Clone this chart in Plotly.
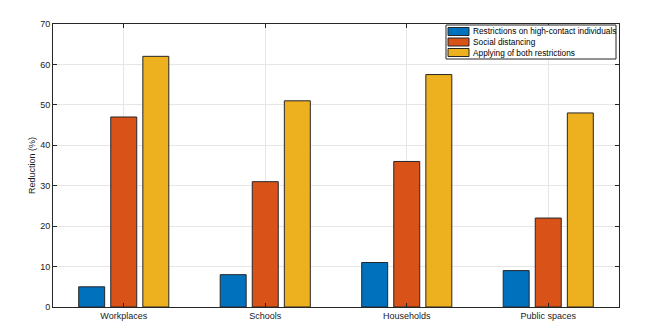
import plotly.graph_objects as go

categories = ["Workplaces", "Schools", "Households", "Public spaces"]
high_contact = [5, 8, 11, 9]
social_distancing = [47, 31, 36, 22]
both_restrictions = [62, 51, 57.5, 48]

series_names = ["Restrictions on high-contact individuals", "Social distancing",
                "Applying of both restrictions"]
colors = ["#0072BD", "#D95319", "#EDB120"]

# plot area in window pixels (page body has an 8px margin)
PX0, PX1, PY0, PY1 = 53, 619, 24, 307


def px_x(x):
    return (x - PX0) / (PX1 - PX0)


def px_y(y):
    return (PY1 - y) / (PY1 - PY0)


fig = go.Figure()
for name, vals, col in zip(series_names, [high_contact, social_distancing, both_restrictions], colors):
    fig.add_trace(go.Bar(x=categories, y=vals, name=name, marker_color=col,
                         marker_line_color="#262626", marker_line_width=1))

# compact MATLAB-like legend drawn by hand
shapes = [dict(type="rect", xref="paper", yref="paper", x0=px_x(446), x1=px_x(616),
               y0=px_y(59), y1=px_y(25), line=dict(color="#262626", width=1),
               fillcolor="white", layer="above")]
annotations = []
row_centers = [31.5, 42, 52.5]
for name, col, yc in zip(series_names, colors, row_centers):
    shapes.append(dict(type="rect", xref="paper", yref="paper", x0=px_x(448), x1=px_x(469),
                       y0=px_y(yc + 4), y1=px_y(yc - 4), line=dict(color="#262626", width=1),
                       fillcolor=col, layer="above"))
    annotations.append(dict(xref="paper", yref="paper", x=px_x(471), y=px_y(yc),
                            xanchor="left", yanchor="middle", showarrow=False, text=name,
                            font=dict(size=8.3, color="#000000")))

fig.update_layout(
    width=658, height=328,
    margin=dict(l=45, r=47, t=16, b=29),
    barmode="group", bargap=0.32, bargroupgap=0.19,
    plot_bgcolor="white", paper_bgcolor="white",
    font=dict(family="Liberation Sans, Arial", size=9, color="#1a1a1a"),
    showlegend=False,
    shapes=shapes, annotations=annotations,
)
fig.update_xaxes(showline=True, linecolor="#262626", linewidth=1, mirror="ticks",
                 ticks="inside", ticklen=4, tickcolor="#262626",
                 showgrid=True, gridcolor="#e6e6e6")
fig.update_yaxes(range=[0, 70], dtick=10, showline=True, linecolor="#262626", linewidth=1,
                 mirror="ticks", ticks="inside", ticklen=4, tickcolor="#262626",
                 showgrid=True, gridcolor="#e6e6e6", zeroline=False,
                 title=dict(text="Reduction (%)", standoff=3, font=dict(size=9)))

fig.write_html("out.html")
